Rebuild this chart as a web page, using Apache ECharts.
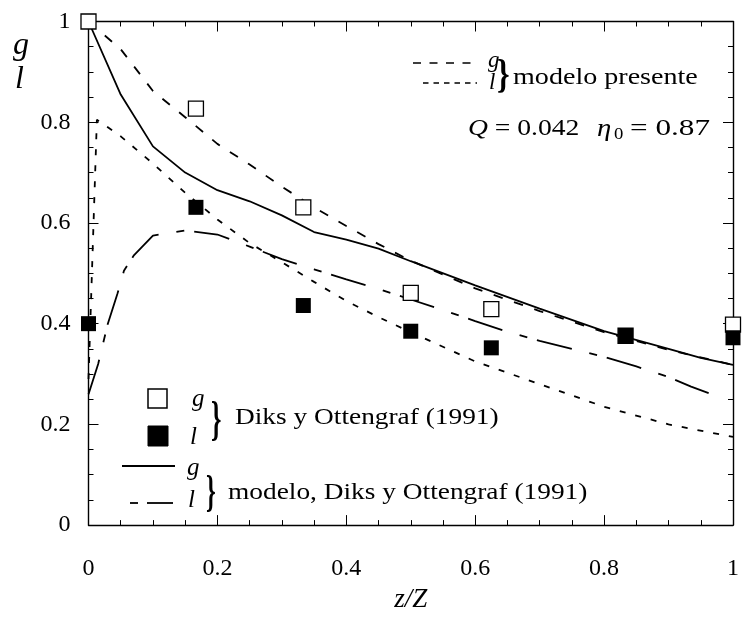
<!DOCTYPE html>
<html><head><meta charset="utf-8">
<script src="https://cdn.jsdelivr.net/npm/echarts@6/dist/echarts.min.js"></script>
<style>html,body{margin:0;padding:0;background:#fff}#c{width:742px;height:618px}</style>
</head><body><div id="c"></div>
<script>
// axis ticks
const xTicks = [0, 0.2, 0.4, 0.6, 0.8, 1];
const yTicks = [0, 0.2, 0.4, 0.6, 0.8, 1];

// modelo presente, g (dashed)
const zPresG = [0, 0.05, 0.1, 0.15, 0.2, 0.25, 0.3, 0.35, 0.4, 0.45, 0.5, 0.6, 0.7, 0.8, 0.9, 1.0];
const gPres  = [1.0, 0.945, 0.862, 0.81, 0.757, 0.716, 0.672, 0.631, 0.594, 0.558, 0.525, 0.47, 0.425, 0.383, 0.348, 0.318];

// modelo presente, l (short dashes)
const zPresL = [0, 0.013, 0.05, 0.1, 0.15, 0.2, 0.25, 0.3, 0.35, 0.4, 0.45, 0.5, 0.6, 0.7, 0.8, 0.9, 1.0];
const lPres  = [0.29, 0.805, 0.772, 0.718, 0.66, 0.607, 0.56, 0.522, 0.483, 0.445, 0.413, 0.383, 0.325, 0.28, 0.235, 0.2, 0.175];

// modelo, Diks y Ottengraf (1991), g (solid)
const zDiksG = [0, 0.05, 0.1, 0.15, 0.2, 0.25, 0.3, 0.35, 0.4, 0.45, 0.5, 0.6, 0.7, 0.8, 0.9, 0.95, 1.0];
const gDiks  = [1.0, 0.855, 0.752, 0.7, 0.665, 0.643, 0.615, 0.582, 0.567, 0.549, 0.524, 0.476, 0.43, 0.385, 0.35, 0.332, 0.318];

// modelo, Diks y Ottengraf (1991), l (long-short dash)
const zDiksL = [0, 0.015, 0.03, 0.045, 0.055, 0.07, 0.1, 0.15, 0.2, 0.25, 0.3, 0.35, 0.4, 0.45, 0.5, 0.55, 0.6, 0.65, 0.7, 0.75, 0.8, 0.85, 0.9, 0.935, 0.967];
const lDiks  = [0.26, 0.32, 0.40, 0.46, 0.505, 0.535, 0.575, 0.585, 0.577, 0.553, 0.528, 0.508, 0.488, 0.469, 0.448, 0.427, 0.405, 0.384, 0.366, 0.35, 0.334, 0.315, 0.294, 0.275, 0.26];

// Diks y Ottengraf (1991) experimental points
const zExp = [0, 0.1667, 0.3333, 0.5, 0.625, 0.8333, 1.0];
const gExp = [1.0, 0.827, 0.631, 0.461, 0.429, 0.376, 0.398];
const lExp = [0.40, 0.631, 0.436, 0.385, 0.352, 0.376, 0.372];

const zip = (a, b) => a.map((v, i) => [v, b[i]]);
const SERIF = 'Liberation Serif';

const chart = echarts.init(document.getElementById('c'), null, {renderer: 'canvas'});

function mkAxis(pos, showLabel, ticks) {
  return {
    type: 'value', position: pos, min: ticks[0], max: ticks[ticks.length - 1], interval: ticks[1] - ticks[0],
    axisLine: {show: true, onZero: false, lineStyle: {color: '#000', width: 1.4}},
    axisTick: {show: true, inside: true, length: 10, lineStyle: {color: '#000', width: 1}},
    minorTick: {show: true, splitNumber: 4, length: 5, lineStyle: {color: '#000', width: 1}},
    splitLine: {show: false},
    axisLabel: {show: showLabel, color: '#000', fontFamily: SERIF, fontSize: 24,
      formatter: v => String(+v.toFixed(2))}
  };
}

const xb = mkAxis('bottom', true, xTicks);
xb.axisLabel.margin = 32;
xb.name = 'z/Z';
xb.nameLocation = 'middle';
xb.nameGap = 59;
xb.nameTextStyle = {fontFamily: SERIF, fontStyle: 'italic', fontSize: 27, color: '#000'};
const xt = mkAxis('top', false, xTicks);
const yl = mkAxis('left', true, yTicks);
yl.axisLabel.margin = 18;
yl.axisLabel.padding = [10, 0, 0, 0];
const yr = mkAxis('right', false, yTicks);

function lineSeries(data, dash, w) {
  return {type: 'line', data, showSymbol: false, symbol: 'none', smooth: false, clip: false,
    lineStyle: {color: '#000', width: w, type: dash}, z: 2, silent: true};
}

function txt(x, y, text, size, opts) {
  opts = opts || {};
  return {type: 'text', x, y, scaleX: opts.sx || 1, z: 10,
    style: {text, fill: '#000', fontFamily: SERIF, fontSize: size, fontStyle: opts.italic ? 'italic' : 'normal',
      fontWeight: opts.bold ? 'bold' : 'normal',
      align: opts.align || 'left', verticalAlign: 'middle', rich: opts.rich}};
}
function seg(x1, y1, x2, y2, dash, w) {
  return {type: 'line', z: 10, shape: {x1, y1, x2, y2}, style: {stroke: '#000', lineWidth: w || 1.6, lineDash: dash || null}};
}

const graphics = [
  // y axis name
  txt(13, 46, 'g', 32, {italic: true}),
  txt(15, 80, 'l', 32, {italic: true}),
  // upper right legend
  seg(413, 63, 477, 63, [8, 8.5], 1.5),
  seg(423, 83, 477, 83, [5.5, 5], 1.5),
  txt(488, 61, 'g', 23, {italic: true}),
  txt(489, 83, 'l', 23, {italic: true}),
  txt(497, 77, '}', 40, {sx: 0.8, bold: true}),
  txt(513, 78, 'modelo presente', 24, {sx: 1.17}),
  txt(468, 129, '{i|Q} = 0.042', 24, {sx: 1.15, rich: {i: {fontFamily: SERIF, fontStyle: 'italic', fontSize: 24, fill: '#000'}}}),
  txt(597, 129, 'η', 25, {italic: true, sx: 1.15}),
  txt(614, 135, '0', 17, {sx: 1.1}),
  txt(630, 129, '= 0.87', 24, {sx: 1.3}),
  // lower left legend
  {type: 'rect', z: 10, shape: {x: 148, y: 389, width: 19, height: 19}, style: {fill: '#fff', stroke: '#000', lineWidth: 1.5}},
  {type: 'rect', z: 10, shape: {x: 148, y: 426, width: 20, height: 20}, style: {fill: '#000', stroke: '#000', lineWidth: 1}},
  txt(192, 399, 'g', 25, {italic: true}),
  txt(190, 437, 'l', 25, {italic: true}),
  txt(211, 423, '}', 48, {sx: 0.55, bold: true}),
  txt(235, 418, 'Diks y Ottengraf (1991)', 24, {sx: 1.14}),
  seg(122, 466, 175, 466, null, 1.8),
  seg(130, 503, 138, 503, null, 1.8),
  seg(147, 503, 173, 503, null, 1.8),
  txt(187, 468, 'g', 25, {italic: true}),
  txt(188, 500, 'l', 25, {italic: true}),
  txt(206, 494, '}', 45, {sx: 0.55, bold: true}),
  txt(228, 493, 'modelo, Diks y Ottengraf (1991)', 24, {sx: 1.14})
];

chart.setOption({
  animation: false,
  backgroundColor: '#fff',
  grid: {left: 88.5, right: 2, top: 21.5, bottom: 81, containLabel: false},
  xAxis: [xb, xt],
  yAxis: [yl, yr],
  series: [
    lineSeries(zip(zPresG, gPres), [9.5, 12], 1.8),
    lineSeries(zip(zPresL, lPres), [6, 10], 1.8),
    lineSeries(zip(zDiksG, gDiks), 'solid', 1.8),
    lineSeries(zip(zDiksL, lDiks), [36, 18, 8, 10], 1.8),
    {type: 'scatter', data: zip(zExp, gExp), symbol: 'rect', symbolSize: 15, clip: false, z: 3,
      itemStyle: {color: '#fff', borderColor: '#000', borderWidth: 1.3, opacity: 1}},
    {type: 'scatter', data: zip(zExp, lExp), symbol: 'rect', symbolSize: 15, clip: false, z: 4,
      itemStyle: {color: '#000', borderColor: '#000', borderWidth: 0, opacity: 1}}
  ],
  graphic: graphics
});
</script>
</body></html>
